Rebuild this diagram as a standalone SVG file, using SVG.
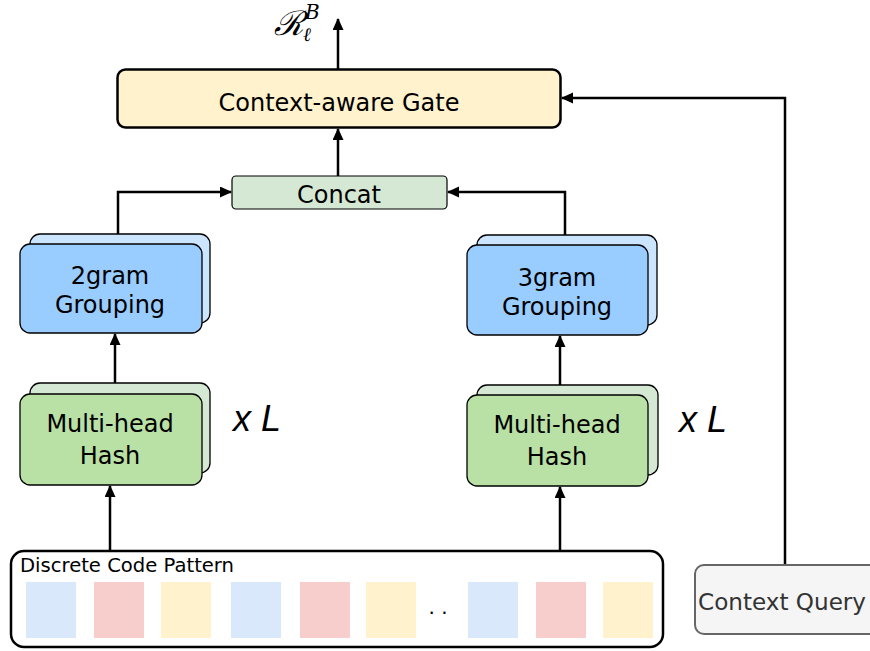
<svg xmlns="http://www.w3.org/2000/svg" width="870" height="651" viewBox="0 0 870 651">
<defs>
<marker id="ah" markerWidth="12" markerHeight="12" refX="11" refY="5.5" orient="auto" markerUnits="userSpaceOnUse">
<path d="M0,0 L12,5.5 L0,11 Z" fill="#000"/>
</marker>
<style>
text{font-family:"DejaVu Sans","Verdana",sans-serif;fill:#000}
.t24{font-size:24px;text-anchor:middle}
.back{stroke:#000;stroke-width:1.3}
.front{stroke:#000;stroke-width:1.3}
.conn{fill:none;stroke:#000;stroke-width:2.5;marker-end:url(#ah)}
.xl{font-family:"Liberation Sans",sans-serif;font-style:italic;font-size:36px}
.m{font-family:"DejaVu Serif",serif;font-style:italic}
</style>
</defs>
<rect width="870" height="651" fill="#fff"/>

<g id="connectors">
<path class="conn" d="M338,69 V19"/>
<path class="conn" d="M338,176 V129"/>
<path class="conn" d="M118,234 V192 H231"/>
<path class="conn" d="M565,235 V192 H448"/>
<path class="conn" d="M115,383 V334"/>
<path class="conn" d="M560,385 V336"/>
<path class="conn" d="M110,551 V486"/>
<path class="conn" d="M560,551 V487"/>
<path class="conn" d="M785,565 V98 H562"/>
</g>

<g id="output-label">
<text class="m" x="274" y="35" font-size="34">ℛ</text>
<text class="m" x="303" y="41" font-size="19">ℓ</text>
<text class="m" x="305" y="19" font-size="20">B</text>
</g>

<g id="gate">
<rect x="117.5" y="69.5" width="443" height="58" rx="8" fill="#fff2cc" stroke="#000" stroke-width="2.5"/>
<text class="t24" x="339" y="111">Context-aware Gate</text>
</g>

<g id="concat">
<rect x="232" y="176" width="215" height="33" rx="4" fill="#d5e8d4" stroke="#000" stroke-width="1.2"/>
<text class="t24" x="339" y="203">Concat</text>
</g>

<g id="grouping2">
<rect class="back" x="30" y="234" width="180" height="89" rx="10" fill="#cce5ff"/>
<rect class="front" x="20" y="244" width="182" height="89" rx="10" fill="#99ccff"/>
<text class="t24" x="110" y="284">2gram</text>
<text class="t24" x="110" y="313">Grouping</text>
</g>

<g id="grouping3">
<rect class="back" x="477" y="235" width="180" height="90" rx="10" fill="#cce5ff"/>
<rect class="front" x="467" y="245" width="181" height="90" rx="10" fill="#99ccff"/>
<text class="t24" x="557" y="286">3gram</text>
<text class="t24" x="557" y="315">Grouping</text>
</g>

<g id="hash-left">
<rect class="back" x="30" y="383" width="180" height="90" rx="10" fill="#d5e8d4"/>
<rect class="front" x="20" y="394" width="182" height="91" rx="10" fill="#b9e0a5"/>
<text class="t24" x="110" y="432">Multi-head</text>
<text class="t24" x="110" y="464">Hash</text>
</g>
<text class="xl" x="233" y="431">x L</text>

<g id="hash-right">
<rect class="back" x="477" y="385" width="181" height="90" rx="10" fill="#d5e8d4"/>
<rect class="front" x="467" y="395" width="181" height="91" rx="10" fill="#b9e0a5"/>
<text class="t24" x="557" y="433">Multi-head</text>
<text class="t24" x="557" y="465">Hash</text>
</g>
<text class="xl" x="679" y="432">x L</text>

<g id="code-pattern">
<rect x="11" y="551" width="652" height="96" rx="13" fill="#fff" stroke="#000" stroke-width="2.5"/>
<text x="20" y="572" font-size="19" textLength="214" lengthAdjust="spacingAndGlyphs">Discrete Code Pattern</text>
<rect x="26" y="582" width="50" height="56" fill="#dae8fc"/>
<rect x="94" y="582" width="50" height="56" fill="#f8cecc"/>
<rect x="161" y="582" width="50" height="56" fill="#fff2cc"/>
<rect x="231" y="582" width="50" height="56" fill="#dae8fc"/>
<rect x="300" y="582" width="50" height="56" fill="#f8cecc"/>
<rect x="366" y="582" width="50" height="56" fill="#fff2cc"/>
<text x="438" y="614" font-size="20" text-anchor="middle">. .</text>
<rect x="468" y="582" width="50" height="56" fill="#dae8fc"/>
<rect x="536" y="582" width="50" height="56" fill="#f8cecc"/>
<rect x="603" y="582" width="50" height="56" fill="#fff2cc"/>
</g>

<g id="context-query">
<rect x="695" y="565" width="190" height="69" rx="9" fill="#f5f5f5" stroke="#666" stroke-width="2"/>
<text x="698" y="610" font-size="23" textLength="168" lengthAdjust="spacingAndGlyphs" style="fill:#333">Context Query</text>
</g>
</svg>
